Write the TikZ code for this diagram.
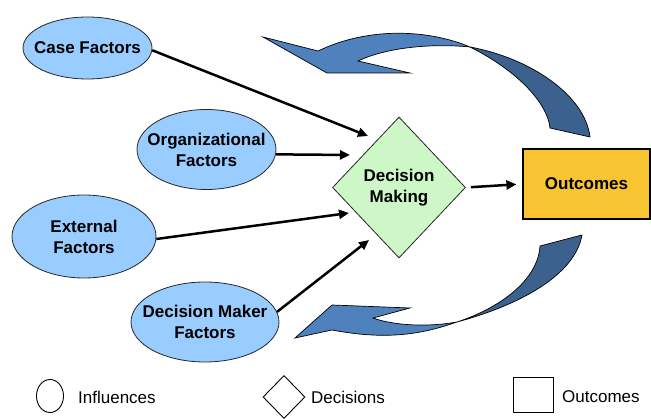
\documentclass[tikz,border=0pt]{standalone}
\usepackage{fontspec}
\setmainfont{Liberation Sans}
\usetikzlibrary{shapes.geometric,arrows.meta}
\definecolor{inflc}{RGB}{153,204,255}
\definecolor{decc}{RGB}{206,247,200}
\definecolor{outc}{RGB}{248,196,50}
\definecolor{lblue}{RGB}{79,129,189}
\definecolor{dblue}{RGB}{61,97,142}
\newcommand{\zw}[1]{\makebox[0pt][c]{#1}}
\begin{document}
\begin{tikzpicture}[x=1pt,y=-1pt,
  inflnode/.style={ellipse, draw=black!85, line width=0.8pt, fill=inflc, inner sep=0pt, align=center,
    font=\fontsize{17}{21}\selectfont\bfseries},
  decnode/.style={diamond, draw=black!85, line width=0.8pt, fill=decc, inner sep=0pt, align=center,
    font=\fontsize{17}{21}\selectfont\bfseries},
  outnode/.style={rectangle, draw=black, line width=1.2pt, fill=outc, inner sep=0pt, align=center,
    font=\fontsize{17}{20}\selectfont\bfseries},
  conn/.style={line width=2.5pt, -{Triangle[length=10pt,width=9pt]}},
  ribbon/.style={draw=black, line width=0.7pt, line join=miter},
  legtext/.style={anchor=west, inner sep=0pt, font=\fontsize{17}{20}\selectfont},
  legshape/.style={draw=black, line width=0.9pt, fill=white, inner sep=0pt}
]
\useasboundingbox (0,0) rectangle (651,419);

% feedback ribbons (top)
\fill[lblue] (470,47) .. controls (430,30) and (370,26) .. (318,51) -- (263,37) -- (327,73) -- (410,73) -- (358,61) .. controls (385,48) and (430,43) .. (470,47) -- cycle;
\fill[dblue] (470,47) .. controls (530,58) and (585,95) .. (590,137) -- (550,128) .. controls (548,105) and (520,72) .. (470,47) -- cycle;
\draw[ribbon] (470,47) .. controls (430,30) and (370,26) .. (318,51) -- (263,37) -- (327,73) -- (410,73) -- (358,61) .. controls (385,48) and (430,43) .. (470,47);
\draw[ribbon] (470,47) .. controls (530,58) and (585,95) .. (590,137) -- (550,128) .. controls (548,105) and (520,72) .. (470,47);

% feedback ribbons (bottom)
\fill[lblue] (457,322) .. controls (420,335) and (385,340) .. (332,330) -- (295,338) -- (332,305) -- (410,308) -- (373,318) .. controls (395,326) and (430,327) .. (457,322) -- cycle;
\fill[dblue] (457,322) .. controls (520,305) and (575,275) .. (582,235) -- (540,246) .. controls (538,280) and (500,308) .. (457,322) -- cycle;
\draw[ribbon] (457,322) .. controls (420,335) and (385,340) .. (332,330) -- (295,338) -- (332,305) -- (410,308) -- (373,318) .. controls (395,326) and (430,327) .. (457,322);
\draw[ribbon] (457,322) .. controls (520,305) and (575,275) .. (582,235) -- (540,246) .. controls (538,280) and (500,308) .. (457,322);

% nodes
\node[inflnode, minimum width=129pt, minimum height=62pt] (case) at (87.5,48) {\zw{Case Factors}};
\node[inflnode, minimum width=139pt, minimum height=80pt] (org) at (206.5,149.5) {\zw{Organizational}\\\zw{Factors}};
\node[inflnode, minimum width=144pt, minimum height=83pt] (ext) at (84,236.5) {\zw{External}\\\zw{Factors}};
\node[inflnode, minimum width=148pt, minimum height=80pt] (dmf) at (205,322) {\zw{Decision Maker}\\\zw{Factors}};
\node[decnode, minimum width=133pt, minimum height=141pt] (dm) at (399,187.5) {\zw{Decision}\\\zw{Making}};
\node[outnode, minimum width=127pt, minimum height=70pt] (out) at (586.5,184) {\raisebox{-2pt}{Outcomes}};

% arrow targets near the diamond
\coordinate (tA) at (368,136);
\coordinate (tB) at (350,155);
\coordinate (tC) at (349,213);
\coordinate (tD) at (369,240);

\draw[conn] (case.-2) -- (tA);
\draw[conn] (org.-4) -- (tB);
\draw[conn] (ext.-2) -- (tC);
\draw[conn] (dmf.8) -- (tD);
\draw[conn, shorten <=5pt, shorten >=6pt] (dm.east) -- (out.west);

% legend
\node[legshape, ellipse, minimum width=27pt, minimum height=33pt] (lc) at (50,396) {};
\node[legtext] (lct) at (78,397) {Influences};
\node[legshape, diamond, minimum width=42pt, minimum height=43pt] (ld) at (284,397) {};
\node[legtext] (ldt) at (311,397) {Decisions};
\node[legshape, rectangle, minimum width=40pt, minimum height=35pt] (lr) at (533,394.5) {};
\node[legtext] (lrt) at (562,397) {Outcomes};
\end{tikzpicture}
\end{document}
